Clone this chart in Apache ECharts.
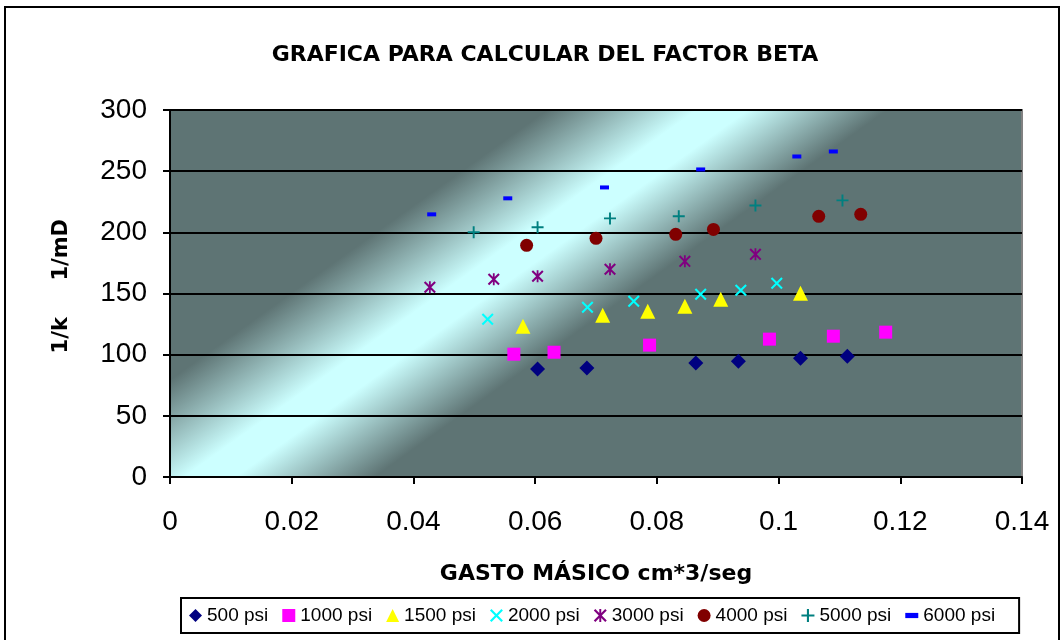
<!DOCTYPE html>
<html>
<head>
<meta charset="utf-8">
<script src="https://cdn.jsdelivr.net/npm/echarts@6/dist/echarts.min.js"></script>
<style>html,body{margin:0;padding:0;background:#fff;}#c{width:1063px;height:640px;}</style>
</head>
<body>
<div id="c"></div>
<script>
// ---- data ----
const seriesNames = ['500 psi','1000 psi','1500 psi','2000 psi','3000 psi','4000 psi','5000 psi','6000 psi'];
const x500  = [0.0604,0.0685,0.0864,0.0934,0.1036,0.1113];
const y500  = [88.2,89.0,93.1,94.7,97.1,98.8];
const x1000 = [0.0565,0.0631,0.0788,0.0985,0.1090,0.1176];
const y1000 = [100.4,102.0,107.8,112.7,115.1,118.4];
const x1500 = [0.0580,0.0711,0.0785,0.0846,0.0905,0.1036];
const y1500 = [123.3,132.2,135.5,139.6,145.3,150.2];
const x2000 = [0.0522,0.0686,0.0762,0.0872,0.0938,0.0997];
const y2000 = [129.0,138.8,143.7,149.4,152.7,158.4];
const x3000 = [0.0427,0.0532,0.0604,0.0723,0.0846,0.0962];
const y3000 = [155.1,161.6,164.1,169.8,176.3,182.0];
const x4000 = [0.0586,0.0700,0.0831,0.0893,0.1066,0.1135];
const y4000 = [189.4,195.1,198.4,202.4,213.1,214.7];
const x5000 = [0.0499,0.0604,0.0723,0.0836,0.0962,0.1105];
const y5000 = [200.0,204.1,211.4,213.1,222.0,226.1];
const x6000 = [0.0430,0.0555,0.0714,0.0872,0.1030,0.1090];
const y6000 = [214.7,227.8,236.7,251.4,262.0,266.1];
const xTicks = [0,0.02,0.04,0.06,0.08,0.1,0.12,0.14];
const yTicks = [0,50,100,150,200,250,300];

const xs = [x500,x1000,x1500,x2000,x3000,x4000,x5000,x6000];
const ys = [y500,y1000,y1500,y2000,y3000,y4000,y5000,y6000];

// ---- styles ----
const symX = 'path://M0,1.2 L1.2,0 L5,3.8 L8.8,0 L10,1.2 L6.2,5 L10,8.8 L8.8,10 L5,6.2 L1.2,10 L0,8.8 L3.8,5 Z';
const symAst = 'path://M0,1.2 L1.2,0 L5,3.8 L8.8,0 L10,1.2 L6.2,5 L10,8.8 L8.8,10 L5,6.2 L1.2,10 L0,8.8 L3.8,5 Z M4.25,0 H5.75 V10 H4.25 Z';
const symPlus = 'path://M4.2,0 H5.8 V4.2 H10 V5.8 H5.8 V10 H4.2 V5.8 H0 V4.2 H4.2 Z';
const symDash = 'path://M0,0 H10 V4 H0 Z';
const styles = [
  {symbol:'diamond', size:15, color:'#000080'},
  {symbol:'rect', size:13, color:'#FF00FF'},
  {symbol:'triangle', size:15, color:'#FFFF00'},
  {symbol:symX, size:12, color:'#00FFFF'},
  {symbol:symAst, size:12, color:'#800080'},
  {symbol:'circle', size:13, color:'#800000'},
  {symbol:symPlus, size:12, color:'#008080'},
  {symbol:symDash, size:[9,4], color:'#0000FF'}
];

const series = seriesNames.map((n,i)=>({
  name:n, type:'scatter',
  symbol:styles[i].symbol, symbolSize:styles[i].size,
  itemStyle:{color:styles[i].color, opacity:1},
  data: xs[i].map((v,j)=>[v, ys[i][j]]),
  z:3
}));

const chart = echarts.init(document.getElementById('c'));
const D = '#5e7474', L = '#ccffff';
const bg = {
  type:'linear', x:209.5, y:292.7, x2:384.1, y2:536.6, global:true,
  colorStops:[
    {offset:0, color:D},
    {offset:0.16, color:D},
    {offset:0.45, color:L},
    {offset:0.55, color:L},
    {offset:0.82, color:D},
    {offset:1, color:D}
  ]
};
chart.setOption({
  animation:false,
  backgroundColor:'#ffffff',
  title:{
    text:'GRAFICA PARA CALCULAR DEL FACTOR BETA',
    left:540, top:39, textAlign:'center',
    textStyle:{fontFamily:'DejaVu Sans', fontWeight:'bold', fontSize:22, color:'#000'}
  },
  grid:{left:170, top:110, width:852, height:367, show:true, backgroundColor:bg, borderColor:'#808080', borderWidth:2},
  xAxis:{
    type:'value', min:xTicks[0], max:xTicks[xTicks.length-1], interval:xTicks[1]-xTicks[0],
    name:'GASTO MÁSICO cm*3/seg', nameLocation:'middle', nameGap:86,
    nameTextStyle:{fontFamily:'DejaVu Sans', fontWeight:'bold', fontSize:22, color:'#000'},
    axisLine:{onZero:false, lineStyle:{color:'#000', width:2}},
    axisTick:{show:true, inside:false, length:7, lineStyle:{color:'#000', width:2}},
    axisLabel:{margin:31, fontFamily:'Liberation Sans', fontSize:28, color:'#000',
      formatter:v=>String(+v.toFixed(2))},
    splitLine:{show:false}
  },
  yAxis:{
    type:'value', min:yTicks[0], max:yTicks[yTicks.length-1], interval:yTicks[1]-yTicks[0],
    name:'  1/k     1/mD', nameLocation:'middle', nameGap:98, nameRotate:90,
    nameTextStyle:{fontFamily:'DejaVu Sans', fontWeight:'bold', fontSize:21, color:'#000'},
    axisLine:{show:true, lineStyle:{color:'#000', width:2}},
    axisTick:{show:true, inside:false, length:7, lineStyle:{color:'#000', width:2}},
    axisLabel:{margin:23, fontFamily:'Liberation Sans', fontSize:28, color:'#000'},
    splitLine:{show:true, lineStyle:{color:'#000', width:2}}
  },
  legend:{
    data:seriesNames, left:181, top:598,
    orient:'horizontal',
    itemWidth:13, itemHeight:13, itemGap:14,
    padding:[8,24,8,8],
    borderColor:'#000', borderWidth:2, backgroundColor:'#fff',
    textStyle:{fontFamily:'Liberation Sans', fontSize:19, color:'#000'}
  },
  graphic:[{
    type:'rect', silent:true, z:-10,
    shape:{x:5, y:7, width:1054, height:640},
    style:{fill:'none', stroke:'#000', lineWidth:2}
  }],
  series:series
});
</script>
</body>
</html>
